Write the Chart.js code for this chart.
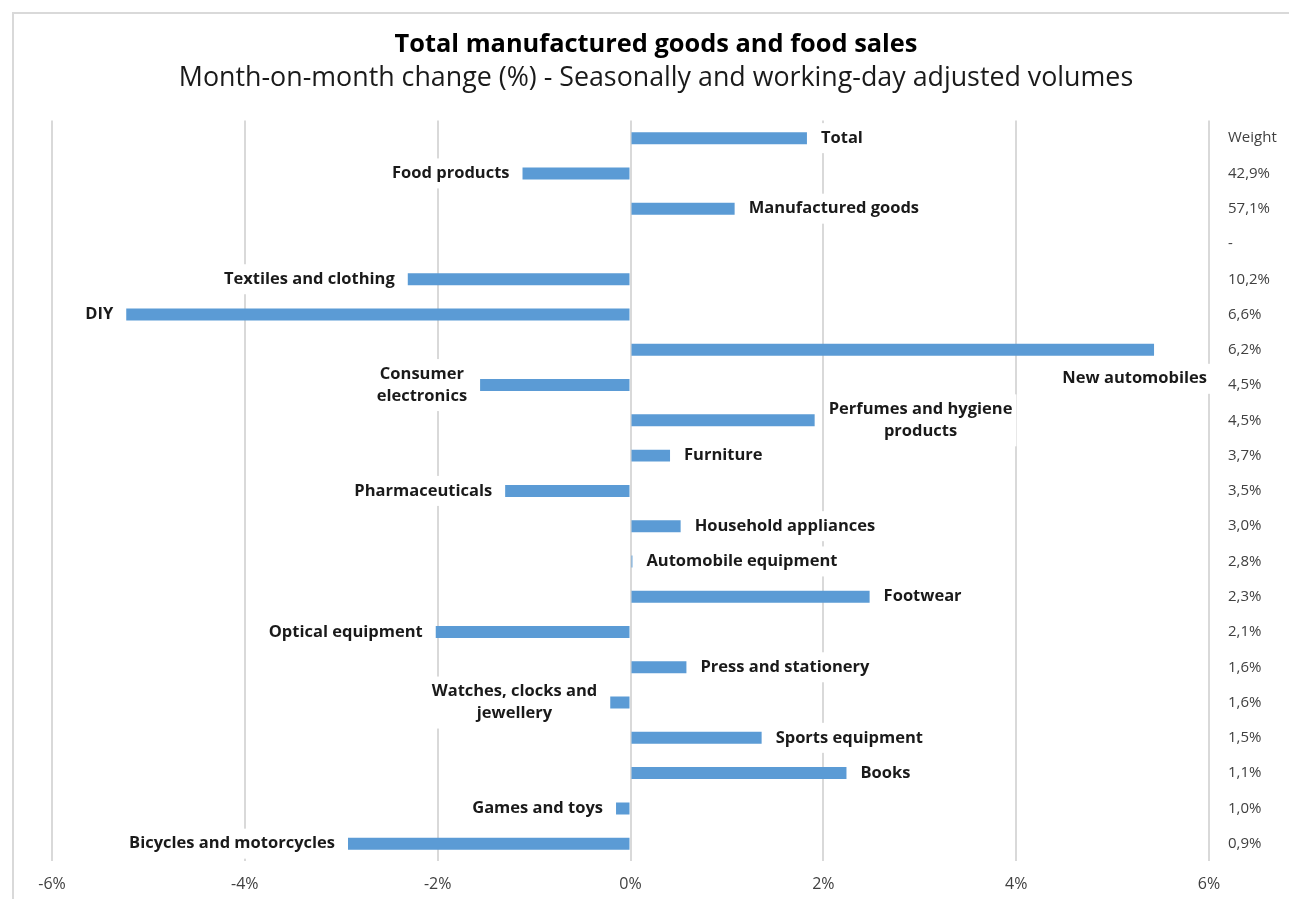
<!DOCTYPE html>
<html>
<head>
<meta charset="utf-8">
<script src="https://cdn.jsdelivr.net/npm/chart.js@4.4.1/dist/chart.umd.min.js"></script>
<style>
  html, body { margin: 0; padding: 0; background: #fff; }
  #wrap { width: 1289px; height: 899px; position: relative; }
</style>
</head>
<body>
<div id="wrap"><canvas id="salesChart" width="1289" height="899"></canvas></div>
<script>
const titleText = "Total manufactured goods and food sales";
const subtitleText = "Month-on-month change (%) - Seasonally and working-day adjusted volumes";
// categories top to bottom (arrays = wrapped labels), blank row is a spacer
const categories = [
  "Total", "Food products", "Manufactured goods", "",
  "Textiles and clothing", "DIY", "New automobiles",
  ["Consumer", "electronics"], ["Perfumes and hygiene", "products"],
  "Furniture", "Pharmaceuticals", "Household appliances", "Automobile equipment",
  "Footwear", "Optical equipment", "Press and stationery",
  ["Watches, clocks and", "jewellery"], "Sports equipment", "Books",
  "Games and toys", "Bicycles and motorcycles"
];
// month-on-month change, %
const changes = [1.83, -1.12, 1.08, null, -2.31, -5.23, 5.43, -1.56, 1.91, 0.41, -1.30,
  0.52, 0.02, 2.48, -2.02, 0.58, -0.21, 1.36, 2.24, -0.15, -2.93];
const weights = ["Weight", "42,9%", "57,1%", "-", "10,2%", "6,6%", "6,2%", "4,5%", "4,5%",
  "3,7%", "3,5%", "3,0%", "2,8%", "2,3%", "2,1%", "1,6%", "1,6%", "1,5%", "1,1%", "1,0%", "0,9%"];

const FONT = "'Open Sans', 'Liberation Sans', sans-serif";

// white page, light frame on top/left, and the two title lines
const framePlugin = {
  id: "frame",
  beforeDraw(chart) {
    const c = chart.ctx;
    c.save();
    c.fillStyle = "#fff";
    c.fillRect(0, 0, chart.width, chart.height);
    c.strokeStyle = "#d9d9d9";
    c.lineWidth = 2;
    c.beginPath();
    c.moveTo(13, chart.height);
    c.lineTo(13, 13);
    c.lineTo(chart.width, 13);
    c.stroke();
    c.textAlign = "center";
    c.textBaseline = "middle";
    c.fillStyle = "#000";
    c.font = "bold 25.4px " + FONT;
    c.fillText(titleText, 656, 45);
    c.fillStyle = "#1a1a1a";
    c.font = "26.8px " + FONT;
    c.fillText(subtitleText, 656, 78);
    c.restore();
  }
};

// bar name labels beside bars, with white boxes, and the weight column
const labelPlugin = {
  id: "barLabels",
  afterDatasetsDraw(chart) {
    const c = chart.ctx;
    const area = chart.chartArea;
    const meta = chart.getDatasetMeta(0);
    const yScale = chart.scales.y;
    c.save();
    c.font = "bold 16.5px " + FONT;
    c.textBaseline = "middle";
    c.textAlign = "center";
    meta.data.forEach((bar, i) => {
      const v = changes[i];
      if (v === null) return;
      const lines = Array.isArray(categories[i]) ? categories[i] : [categories[i]];
      const w = Math.max(...lines.map(l => c.measureText(l).width));
      const lh = 22;
      const h = lines.length * lh + 8;
      let x0, yc = bar.y;
      if (v >= 0) {
        x0 = bar.x + 14;
        if (x0 + w > area.right) {
          x0 = area.right - 2 - w;
          yc = bar.y + 29;
        }
      } else {
        x0 = bar.x - 13 - w;
      }
      c.fillStyle = "#fff";
      c.fillRect(x0 - 4, yc - h / 2, w + 8, h);
      c.fillStyle = "#1a1a1a";
      lines.forEach((l, k) => {
        c.fillText(l, x0 + w / 2, yc - (lines.length - 1) * lh / 2 + k * lh);
      });
    });
    c.font = "15px " + FONT;
    c.fillStyle = "#404040";
    c.textAlign = "left";
    weights.forEach((wt, i) => {
      c.fillText(wt, area.right + 19, yScale.getPixelForValue(i));
    });
    c.restore();
  }
};

new Chart(document.getElementById("salesChart").getContext("2d"), {
  type: "bar",
  data: {
    labels: categories,
    datasets: [{
      data: changes,
      backgroundColor: "#5B9BD5",
      borderWidth: 0,
      barPercentage: 0.34,
      categoryPercentage: 1
    }]
  },
  options: {
    indexAxis: "y",
    responsive: false,
    animation: false,
    layout: { padding: { left: 52, right: 80, top: 120.5, bottom: -9.5 } },
    plugins: {
      legend: { display: false },
      tooltip: { enabled: false }
    },
    scales: {
      x: {
        min: -6,
        max: 6,
        ticks: {
          stepSize: 2,
          padding: 14,
          color: "#404040",
          font: { family: FONT, size: 16 },
          callback: v => v + "%"
        },
        grid: { color: "#d9d9d9", lineWidth: 2, drawTicks: false },
        border: { display: false }
      },
      y: {
        display: false,
        grid: { display: false }
      }
    }
  },
  plugins: [framePlugin, labelPlugin]
});
</script>
</body>
</html>
